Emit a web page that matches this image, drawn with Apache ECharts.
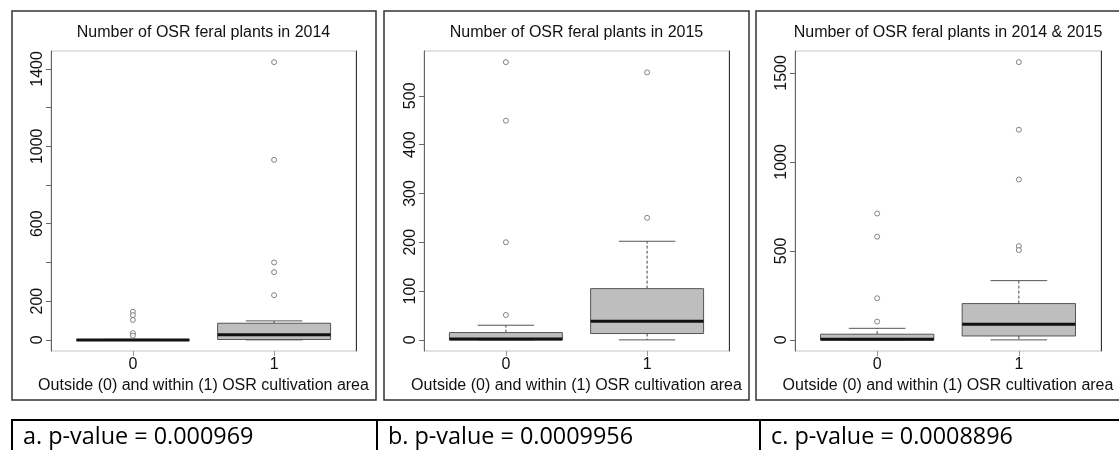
<!DOCTYPE html>
<html>
<head>
<meta charset="utf-8">
<script src="https://cdn.jsdelivr.net/npm/echarts@6/dist/echarts.min.js"></script>
<style>
  html, body { margin: 0; padding: 0; background: #fff; }
  #chart { width: 1119px; height: 450px; }
</style>
</head>
<body>
<div id="chart"></div>
<script>
// ---------------- data ----------------
const titles = [
  'Number of OSR feral plants in 2014',
  'Number of OSR feral plants in 2015',
  'Number of OSR feral plants in 2014 & 2015'
];
const xAxisName = 'Outside (0) and within (1) OSR cultivation area';
const categories = ['0', '1'];
const pValues = ['a. p-value = 0.000969', 'b. p-value = 0.0009956', 'c. p-value = 0.0008896'];

// five-number summaries per group: [lower whisker, Q1, median, Q3, upper whisker]
const box2014 = [[0, 0, 0, 1, 3], [0, 2, 26, 86, 98]];
const outliers2014Out = [145, 128, 103, 35, 22];
const outliers2014In = [1435, 930, 400, 350, 231];

const box2015 = [[0, 0, 2, 15, 30], [0, 13, 38, 105, 202]];
const outliers2015Out = [569, 449, 200, 51];
const outliers2015In = [548, 250];

const boxBoth = [[0, 0, 3, 32, 65], [0, 22, 88, 204, 333]];
const outliersBothOut = [710, 580, 234, 103];
const outliersBothIn = [1561, 1181, 901, 527, 505];

// y-axis ticks and the tick labels that are printed
const ticks2014 = [0, 200, 400, 600, 800, 1000, 1200, 1400];
const labels2014 = [0, 200, 600, 1000, 1400];
const ticks2015 = [0, 100, 200, 300, 400, 500];
const labels2015 = [0, 100, 200, 300, 400, 500];
const ticksBoth = [0, 500, 1000, 1500];
const labelsBoth = [0, 500, 1000, 1500];

// ---------------- layout / style ----------------
const FONT = '"Liberation Sans", Arial, sans-serif';
const panels = [
  { box: box2014, out: [outliers2014Out, outliers2014In], ticks: ticks2014, labels: labels2014 },
  { box: box2015, out: [outliers2015Out, outliers2015In], ticks: ticks2015, labels: labels2015 },
  { box: boxBoth, out: [outliersBothOut, outliersBothIn], ticks: ticksBoth, labels: labelsBoth }
];
const gridLeft = [51, 424, 795];
const gridWidth = [305, 305, 306];
const gridTop = 51, gridHeight = 300;
const frames = [[12, 364], [384, 365], [756, 420]];
const BOX_W = 0.8;

function renderBox(params, api) {
  const x = api.value(0);
  const low = api.coord([x, api.value(1)]);
  const q1 = api.coord([x, api.value(2)]);
  const med = api.coord([x, api.value(3)]);
  const q3 = api.coord([x, api.value(4)]);
  const high = api.coord([x, api.value(5)]);
  const bw = api.size([BOX_W, 0])[0];
  const cx = low[0];
  const half = bw / 2, st = bw / 4;
  const wStyle = { stroke: '#444', lineWidth: 1, lineDash: [3, 2] };
  const sStyle = { stroke: '#555', lineWidth: 1 };
  return {
    type: 'group',
    children: [
      { type: 'line', shape: { x1: cx, y1: q3[1], x2: cx, y2: high[1] }, style: wStyle },
      { type: 'line', shape: { x1: cx, y1: q1[1], x2: cx, y2: low[1] }, style: wStyle },
      { type: 'line', shape: { x1: cx - st, y1: high[1], x2: cx + st, y2: high[1] }, style: sStyle },
      { type: 'line', shape: { x1: cx - st, y1: low[1], x2: cx + st, y2: low[1] }, style: sStyle },
      { type: 'rect', shape: { x: cx - half, y: q3[1], width: bw, height: q1[1] - q3[1] },
        style: { fill: '#bebebe', stroke: '#555', lineWidth: 1 } },
      { type: 'line', shape: { x1: cx - half, y1: med[1], x2: cx + half, y2: med[1] },
        style: { stroke: '#111', lineWidth: 3 } }
    ]
  };
}

const grid = [], xAxis = [], yAxis = [], series = [], graphic = [];

panels.forEach((p, i) => {
  const allVals = p.box.flat().concat(p.out[0], p.out[1]);
  const dMax = Math.max(...allVals), dMin = Math.min(...allVals);
  const pad = 0.04 * (dMax - dMin);
  grid.push({ left: gridLeft[i], top: gridTop, width: gridWidth[i], height: gridHeight,
    show: true, borderColor: '#c4c4c4', borderWidth: 1, backgroundColor: 'transparent',
    outerBoundsMode: 'none' });
  xAxis.push({
    type: 'value', gridIndex: i, min: -0.58, max: 1.58,
    axisLine: { show: false, onZero: false }, splitLine: { show: false },
    axisTick: { show: true, customValues: [0, 1], length: 5, lineStyle: { color: '#999' } },
    axisLabel: { customValues: [0, 1], formatter: v => categories[Math.round(v)],
      fontFamily: FONT, fontSize: 16, color: '#111', margin: 6 },
    name: xAxisName, nameLocation: 'middle', nameGap: 25,
    nameTextStyle: { fontFamily: FONT, fontSize: 16, color: '#111' }
  });
  yAxis.push({
    type: 'value', gridIndex: i, min: dMin - pad, max: dMax + pad,
    splitLine: { show: false },
    axisLine: { show: true, onZero: false, lineStyle: { color: '#666', width: 1 } },
    axisTick: { show: true, customValues: p.ticks, length: 5, lineStyle: { color: '#666' } },
    axisLabel: { customValues: p.labels, formatter: v => String(v), rotate: 90,
      fontFamily: FONT, fontSize: 16, color: '#111', margin: 5 }
  });
  yAxis.push({
    type: 'value', gridIndex: i, position: 'right', min: dMin - pad, max: dMax + pad,
    splitLine: { show: false }, axisTick: { show: false }, axisLabel: { show: false },
    axisLine: { show: true, onZero: false, lineStyle: { color: '#333', width: 1 } }
  });
  series.push({
    type: 'custom', xAxisIndex: i, yAxisIndex: 2 * i,
    data: p.box.map((b, k) => [k].concat(b)),
    encode: { x: 0, y: [1, 2, 3, 4, 5] },
    renderItem: renderBox, silent: true
  });
  series.push({
    type: 'scatter', xAxisIndex: i, yAxisIndex: 2 * i,
    data: p.out[0].map(v => [0, v]).concat(p.out[1].map(v => [1, v])),
    symbol: 'circle', symbolSize: 5,
    itemStyle: { color: '#fff', borderColor: '#666', borderWidth: 1 },
    silent: true
  });
  // panel frame
  graphic.push({ type: 'rect', shape: { x: frames[i][0], y: 11, width: frames[i][1], height: 389 },
    style: { fill: 'none', stroke: '#333', lineWidth: 1.5 }, silent: true });
  // panel title
  graphic.push({ type: 'text', x: gridLeft[i] + gridWidth[i] / 2, y: 33,
    style: { text: titles[i], font: '16px ' + FONT, fill: '#111', align: 'center', verticalAlign: 'middle' } });
});

// bottom table with p-values
const cellLeft = [12, 377, 760];
graphic.push({ type: 'rect', shape: { x: 12, y: 420, width: 1200, height: 100 },
  style: { fill: 'none', stroke: '#000', lineWidth: 2 }, silent: true });
[377, 760].forEach(x => graphic.push({ type: 'line', shape: { x1: x, y1: 420, x2: x, y2: 460 },
  style: { stroke: '#000', lineWidth: 2 }, silent: true }));
pValues.forEach((t, i) => graphic.push({ type: 'text', x: cellLeft[i] + 11, y: 437,
  style: { text: t, font: '23.4px "Open Sans", sans-serif', fill: '#000', align: 'left', verticalAlign: 'middle' } }));

const chart = echarts.init(document.getElementById('chart'), null, { renderer: 'canvas' });
chart.setOption({
  animation: false,
  backgroundColor: '#fff',
  grid, xAxis, yAxis, series, graphic
});
</script>
</body>
</html>
